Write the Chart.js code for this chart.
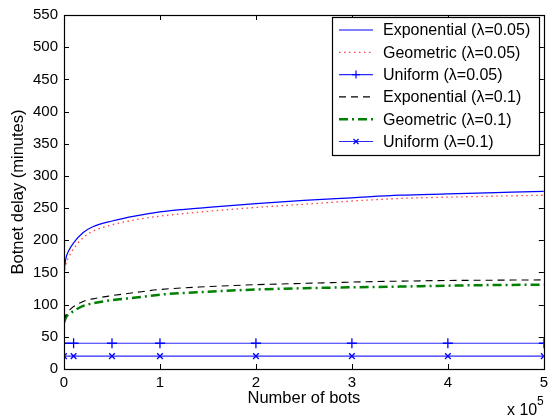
<!DOCTYPE html>
<html>
<head>
<meta charset="utf-8">
<script src="https://cdn.jsdelivr.net/npm/chart.js@4"></script>
<style>html,body{margin:0;padding:0;background:#fff}</style>
</head>
<body>
<canvas id="myChart" width="553" height="419"></canvas>
<script>
// x values (number of bots) for the curves
const bots = [0, 2000, 5000, 10000, 20000, 30000, 50000, 75000, 100000, 150000, 200000, 250000, 300000, 350000, 400000, 450000, 500000];
const expo05 = [152, 172, 184, 196, 212, 221, 230, 238, 244, 251, 257, 262, 266, 270, 272, 274, 276];
const geo05 = [147, 163, 174, 187, 204, 214, 224, 232, 237.5, 245, 251, 256, 261, 265, 267, 268.5, 270];
const expo1 = [75, 84, 90, 97, 105, 109, 114, 119, 123.5, 128, 131, 133, 135, 136.5, 137.5, 138, 138.5];
const geo1 = [72, 80, 85, 90, 98, 102, 107, 111, 115.5, 120, 123.5, 125.5, 127, 128, 129.5, 130.5, 131];
// uniform curves only have the marked points
const uniBots = [0, 10000, 50000, 100000, 200000, 300000, 400000, 500000];
const uni05 = [40, 40, 40, 40, 40, 40, 40, 40];
const uni1 = [20, 20, 20, 20, 20, 20, 20, 20];
const labels = ["Exponential (\u03bb=0.05)", "Geometric (\u03bb=0.05)", "Uniform (\u03bb=0.05)",
  "Exponential (\u03bb=0.1)", "Geometric (\u03bb=0.1)", "Uniform (\u03bb=0.1)"];
const xTicks = [0, 100000, 200000, 300000, 400000, 500000];
const yTicks = [0, 50, 100, 150, 200, 250, 300, 350, 400, 450, 500, 550];

const pts = (xs, ys) => xs.map((x, i) => ({x: x, y: ys[i]}));
const FONT = "'Liberation Sans', Arial, sans-serif";

// box, inward ticks, legend
const matlabBox = {
  id: "matlabBox",
  afterDatasetsDraw(chart) {
    const ctx = chart.ctx;
    const a = chart.chartArea;
    const xs = chart.scales.x, ys = chart.scales.y;
    ctx.save();
    ctx.strokeStyle = "#000";
    ctx.lineWidth = 1;
    ctx.beginPath();
    xTicks.forEach(v => {
      const px = Math.round(xs.getPixelForValue(v)) + 0.5;
      ctx.moveTo(px, a.bottom); ctx.lineTo(px, a.bottom - 5);
      ctx.moveTo(px, a.top); ctx.lineTo(px, a.top + 5);
    });
    yTicks.forEach(v => {
      const py = Math.round(ys.getPixelForValue(v)) + 0.5;
      ctx.moveTo(a.left, py); ctx.lineTo(a.left + 5, py);
      ctx.moveTo(a.right, py); ctx.lineTo(a.right - 5, py);
    });
    ctx.stroke();
    ctx.lineWidth = 1.2;
    ctx.strokeRect(Math.round(a.left) + 0.5, Math.round(a.top) + 0.5,
      Math.round(a.right - a.left), Math.round(a.bottom - a.top));

    // exponent label
    ctx.fillStyle = "#000";
    ctx.font = "16px " + FONT;
    ctx.textBaseline = "alphabetic";
    ctx.textAlign = "left";
    ctx.fillText("x 10", 507, 415);
    ctx.font = "12px " + FONT;
    ctx.fillText("5", 537, 405);

    // legend
    const lx = 332, ly = 17, lw = 207, lh = 138;
    ctx.fillStyle = "#fff";
    ctx.fillRect(lx, ly, lw, lh);
    ctx.lineWidth = 1.2;
    ctx.strokeStyle = "#000";
    ctx.strokeRect(lx + 0.5, ly + 0.5, lw, lh);
    ctx.font = "16px " + FONT;
    ctx.textBaseline = "middle";
    chart.data.datasets.forEach((ds, i) => {
      const y = ly + 13 + i * 22.3;
      ctx.save();
      ctx.strokeStyle = ds.borderColor;
      ctx.lineWidth = ds.borderWidth;
      ctx.setLineDash(ds.borderDash || []);
      ctx.beginPath();
      ctx.moveTo(lx + 7, y); ctx.lineTo(lx + 41, y);
      ctx.stroke();
      ctx.setLineDash([]);
      if (ds.legendMark) {
        ctx.strokeStyle = "#0000ff";
        ctx.lineWidth = 1.2;
        ctx.beginPath();
        const cx = lx + 24, r = 4;
        if (ds.legendMark === "+") {
          ctx.moveTo(cx - r, y); ctx.lineTo(cx + r, y);
          ctx.moveTo(cx, y - r); ctx.lineTo(cx, y + r);
        } else {
          ctx.moveTo(cx - 2.5, y - 2.5); ctx.lineTo(cx + 2.5, y + 2.5);
          ctx.moveTo(cx - 2.5, y + 2.5); ctx.lineTo(cx + 2.5, y - 2.5);
        }
        ctx.stroke();
      }
      ctx.restore();
      ctx.fillStyle = "#000";
      ctx.fillText(ds.label, lx + 51, y + 1);
    });
    ctx.restore();
  }
};

new Chart("myChart", {
  type: "line",
  data: {
    datasets: [
      {label: labels[0], data: pts(bots, expo05), borderColor: "#0000ff", borderWidth: 1.2, pointRadius: 0, cubicInterpolationMode: "monotone"},
      {label: labels[1], data: pts(bots, geo05), borderColor: "#ff4040", borderWidth: 1.3, borderDash: [1.5, 3.5], pointRadius: 0, cubicInterpolationMode: "monotone"},
      {label: labels[2], data: pts(uniBots, uni05), borderColor: "#2a2aff", borderWidth: 1.2, pointStyle: "cross", pointRadius: 5, pointBorderWidth: 1.3, pointBorderColor: "#0000ff", legendMark: "+"},
      {label: labels[3], data: pts(bots, expo1), borderColor: "#000000", borderWidth: 1.1, borderDash: [7, 5], pointRadius: 0, cubicInterpolationMode: "monotone"},
      {label: labels[4], data: pts(bots, geo1), borderColor: "#008000", borderWidth: 2.5, borderDash: [9, 4, 2, 4], pointRadius: 0, cubicInterpolationMode: "monotone"},
      {label: labels[5], data: pts(uniBots, uni1), borderColor: "#2a2aff", borderWidth: 1.2, pointStyle: "crossRot", pointRadius: 4, pointBorderWidth: 1.3, pointBorderColor: "#0000ff", legendMark: "x"}
    ]
  },
  options: {
    responsive: false,
    devicePixelRatio: 1,
    animation: false,
    layout: {padding: {top: 13, right: 8, left: 0, bottom: 0}},
    plugins: {legend: {display: false}, tooltip: {enabled: false}},
    scales: {
      x: {
        type: "linear", min: 0, max: 500000,
        afterBuildTicks: s => { s.ticks = xTicks.map(v => ({value: v})); },
        afterFit: s => { s.height = 50; },
        grid: {display: false, drawTicks: false},
        border: {display: false},
        ticks: {color: "#000", font: {family: FONT, size: 15}, padding: 5, maxRotation: 0,
          callback: v => String(v / 100000)},
        title: {display: true, text: "Number of bots", color: "#000", font: {family: FONT, size: 16.5}, padding: {top: 0, bottom: 11}}
      },
      y: {
        type: "linear", min: 0, max: 550,
        afterBuildTicks: s => { s.ticks = yTicks.map(v => ({value: v})); },
        afterFit: s => { s.width = 64; },
        grid: {display: false, drawTicks: false},
        border: {display: false},
        ticks: {color: "#000", font: {family: FONT, size: 15}, padding: 6},
        title: {display: true, text: "Botnet delay (minutes)", color: "#000", font: {family: FONT, size: 16.5}, padding: {top: 9, bottom: 0}}
      }
    }
  },
  plugins: [matlabBox]
});
</script>
</body>
</html>
